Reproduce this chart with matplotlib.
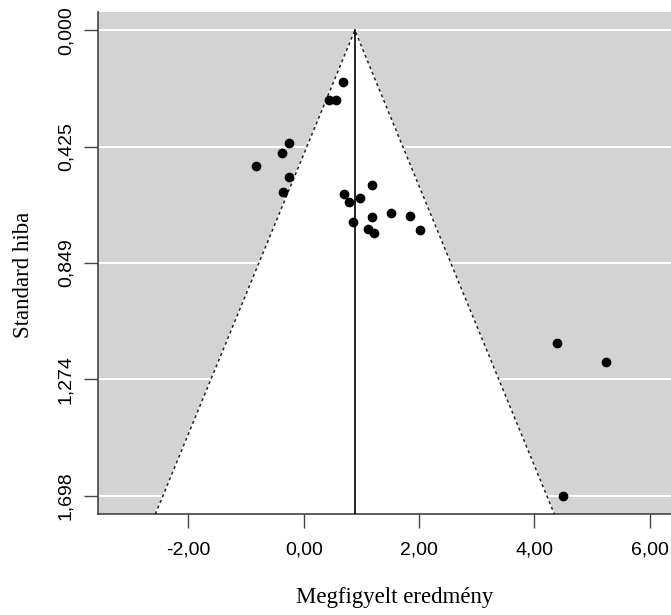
import matplotlib.pyplot as plt

# observed effects and their standard errors
effect = [0.68, 0.44, 0.56, -0.26, -0.38, -0.83, -0.26, -0.36, 1.19, 0.70,
          0.98, 0.78, 1.51, 1.84, 1.19, 0.85, 2.02, 1.12, 1.21, 4.40, 5.24, 4.50]
se = [0.189, 0.255, 0.255, 0.411, 0.447, 0.496, 0.535, 0.590, 0.563, 0.596,
      0.612, 0.626, 0.666, 0.678, 0.683, 0.698, 0.728, 0.727, 0.741, 1.140, 1.212, 1.698]

pooled = 0.886
se_max = 1.698
y_ticks = [0, 0.425, 0.849, 1.274, 1.698]
y_labels = ['0,000', '0,425', '0,849', '1,274', '1,698']
x_ticks = [-2, 0, 2, 4, 6]
x_labels = ['-2,00', '0,00', '2,00', '4,00', '6,00']

fig = plt.figure(figsize=(6.71, 6.15), dpi=100)
ax = fig.add_axes([0.146, 0.164, 0.854, 0.817])
ax.set_facecolor('#d3d3d3')

ylo = -0.04 * se_max
yhi = 1.04 * se_max
ax.set_xlim(-3.57, 6.37)
ax.set_ylim(yhi, ylo)

for t in y_ticks:
    ax.axhline(t, color='white', lw=1.5, zorder=1)

left = pooled - 1.96 * yhi
right = pooled + 1.96 * yhi
ax.fill([pooled, left, right], [0, yhi, yhi], color='white', zorder=2)
ax.plot([left, pooled, right], [yhi, 0, yhi], color='#222222', ls=(0, (2, 2)), lw=1.1, zorder=3)
ax.plot([pooled, pooled], [0, yhi], color='black', lw=1.2, zorder=3)

ax.scatter(effect, se, s=36, color='black', zorder=4)

ax.set_xticks(x_ticks)
ax.set_xticklabels(x_labels, family='Liberation Sans', fontsize=14)
ax.set_yticks(y_ticks)
ax.set_yticklabels(y_labels, family='Liberation Sans', fontsize=14, rotation=90, va='center')
ax.tick_params(length=10, width=1, color='#444444')
ax.tick_params(axis='x', pad=10)
ax.tick_params(axis='y', pad=7)

for s in ['top', 'right']:
    ax.spines[s].set_visible(False)
for s in ['left', 'bottom']:
    ax.spines[s].set_color('#444444')
    ax.spines[s].set_linewidth(1.2)

ax.set_xlabel('Megfigyelt eredmény', family='Liberation Serif', fontsize=16.5, va='center')
ax.set_ylabel('Standard hiba', family='Liberation Serif', fontsize=16.5, va='center')
ax.xaxis.set_label_coords(0.517, -0.165)
ax.yaxis.set_label_coords(-0.13, 0.476)

fig.savefig('out.png', dpi=100)
